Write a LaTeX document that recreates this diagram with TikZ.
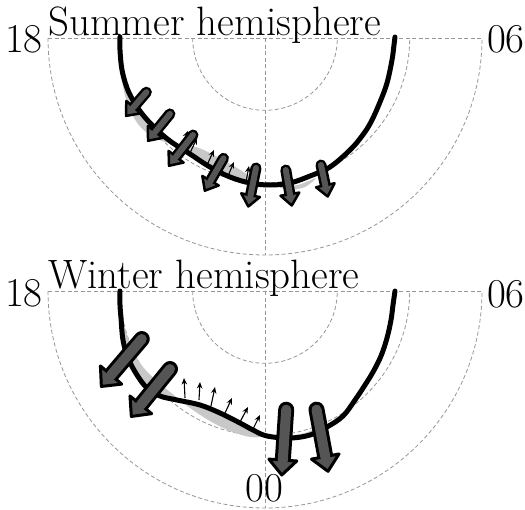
\documentclass[tikz,border=0pt]{standalone}
\usetikzlibrary{arrows.meta}
\definecolor{arrgray}{RGB}{85,85,85}
\definecolor{bandgray}{RGB}{200,200,200}
\definecolor{dashgray}{RGB}{150,150,150}
\newcommand\bigarr[8]{%
 \pgfmathsetmacro\bdx{#3-#1}%
 \pgfmathsetmacro\bdy{#4-#2}%
 \pgfmathsetmacro\bang{atan2(\bdy,\bdx)}%
 \pgfmathsetmacro\brot{0-\bang}%
 \pgfmathsetmacro\blen{veclen(\bdx,\bdy)}%
 \pgfmathsetmacro\bneck{\blen-#7}%
 \pgfmathsetmacro\bneckb{\blen-#7+0.5}%
 \pgfmathsetmacro\bwb{2*#5+2*#8}%
 \pgfmathsetmacro\bwg{2*#5}%
 \begin{scope}[shift={(#1,#2)},rotate=\brot]
  \draw[line width=\bwb pt,line cap=round] (0,0) -- (\bneck,0);
  \filldraw[fill=arrgray,draw=black,line width=#8 pt,line join=round] (\bneck,-#6) -- (\blen,0) -- (\bneck,#6) -- cycle;
  \draw[arrgray,line width=\bwg pt,line cap=round] (0,0) -- (\bneckb,0);
 \end{scope}}
\newcommand\polgrid[2]{%
 \draw[grid] (#1-217,#2) -- (#1+217,#2);
 \draw[grid] (#1,#2) -- (#1,#2+217);
 \foreach \rr in {72.3,144.7,217} \draw[grid] (#1-\rr,#2) arc[start angle=180,end angle=0,radius=\rr];}
\begin{document}
\begin{tikzpicture}[x=1pt,y=-1pt,
  grid/.style={dashgray, line width=0.8pt, dash pattern=on 4pt off 2.5pt},
  bnd/.style={line width=5pt, line cap=round, line join=round},
  smallarr/.style={line width=1.1pt, -{Stealth[length=6.5pt,width=5.5pt]}},
  lbl/.style={font=\fontsize{41}{44}\selectfont, inner sep=0pt}]
\useasboundingbox (0,0) rectangle (525,509);
% ---------- summer ----------
\polgrid{265}{38}
\fill[bandgray] plot[smooth cycle, tension=0.6] coordinates {(121,52) (122,70) (127,88) (134,102) (143,115) (155,128) (170,141) (190,154) (210,167) (230,177) (250,183) (257,184)
 (248,175) (232,165) (214,155) (196,147) (180,145) (165,142) (150,135) (138,124) (129,107) (123,87) (121,66)};
\fill[bandgray] plot[smooth cycle] coordinates {(280,187) (298,185) (316,178) (305,187) (290,190)};
\draw[bnd] plot[smooth, tension=0.6] coordinates {(120,37) (120,50) (122,70) (127,88) (134,102) (143,115) (155,128) (170,141) (190,154) (210,167) (230,177) (250,183) (270,185) (290,183) (310,176) (330,167) (350,150) (362,136) (371,122) (380,102) (387,83) (392,60) (394,45) (395,37)};
\draw[smallarr] (181,147) -- (188,131);
\draw[smallarr] (190,153) -- (197,138);
\draw[smallarr] (207,165) -- (214,150);
\draw[smallarr] (228,176) -- (234,162);
\draw[smallarr] (246,182) -- (249,166);
\bigarr{146.4}{92.2}{126}{115.9}{3}{9.5}{11.5}{2.5}
\bigarr{169.9}{113.9}{148}{140.8}{3}{9.5}{11.5}{2.5}
\bigarr{193}{135}{169}{165.8}{3}{9.5}{11.5}{2.5}
\bigarr{223.5}{158.3}{204.8}{190.7}{3}{9.5}{11.5}{2.5}
\bigarr{256}{168}{248.3}{206.5}{3}{9.5}{11.5}{2.5}
\bigarr{285.8}{170}{291.8}{205.5}{3}{9.5}{11.5}{2.5}
\bigarr{321}{165}{327.7}{196.5}{3}{9.5}{11.5}{2.5}
\node[lbl, anchor=east] (h18a) at (43,39) {18};
\node[lbl, anchor=east] (h06a) at (525,39) {06};
\node[lbl, anchor=base west] (tsum) at (48,35.5) {Summer hemisphere};
% ---------- winter ----------
\polgrid{265}{291}
\fill[bandgray] plot[smooth cycle, tension=0.6] coordinates {(121,318) (123,340) (128,358) (137,375) (147,388) (160,396) (177,400) (200,405) (220,413) (240,423) (253,430) (262,436)
 (250,437) (230,431) (210,421) (190,408) (175,396) (158,382) (143,367) (134,352) (127,335)};
\fill[bandgray] plot[smooth cycle] coordinates {(290,436) (305,433) (318,428) (308,436) (295,439)};
\draw[bnd] plot[smooth, tension=0.6] coordinates {(120,291) (120,305) (121,318) (123,340) (128,358) (137,375) (147,388) (160,396) (177,400) (200,405) (220,413) (240,423) (253,430) (267,436) (290,438) (310,435) (327,427) (343,416) (355,400) (365,385) (373,372) (381,356) (387,338) (391,320) (393,305) (395,291)};
\draw[smallarr] (185,398) -- (184,378);
\draw[smallarr] (199,400) -- (200,382);
\draw[smallarr] (211,406) -- (215,387);
\draw[smallarr] (225,413) -- (232,398);
\draw[smallarr] (240,422) -- (248,407);
\draw[smallarr] (253,429) -- (260,415);
\bigarr{141.8}{339}{101.3}{386.5}{5}{14}{15}{3}
\bigarr{170}{369}{131.3}{416.5}{5}{14}{15}{3}
\bigarr{286.2}{409.7}{281.8}{475}{5}{14}{15}{3}
\bigarr{316.5}{409.6}{328}{471.3}{5}{14}{15}{3}
\node[lbl, anchor=east] (h18b) at (43,293.5) {18};
\node[lbl, anchor=east] (h06b) at (525,294.5) {06};
\node[lbl, anchor=base west] (twin) at (48,288.5) {Winter hemisphere};
\node[lbl, anchor=base] (h00) at (264.5,501) {00};
\end{tikzpicture}
\end{document}
